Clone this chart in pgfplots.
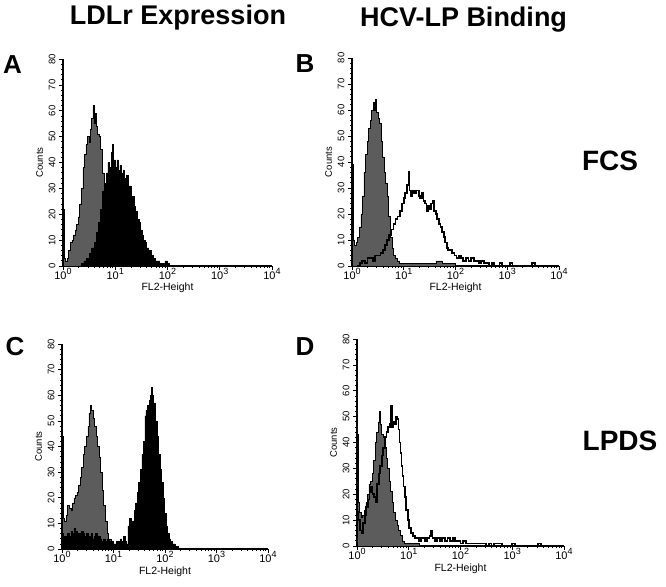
\documentclass[border=0pt]{standalone}
\usepackage{pgfplots}
\pgfplotsset{compat=1.18}
\usepackage{fontspec}
\setmainfont{Liberation Sans}
\setsansfont{Liberation Sans}
\newcommand{\lbl}[1]{10\raisebox{0.42em}{\fontsize{9}{9}\selectfont #1}}
\begin{document}
\begin{tikzpicture}
\useasboundingbox (0,0) rectangle (666pt,586pt);
% Titles
\node[anchor=base, font=\bfseries\fontsize{27}{27}\selectfont] at (178pt,561pt) {LDLr Expression};
\node[anchor=base, font=\bfseries\fontsize{27}{27}\selectfont] at (463.5pt,559pt) {HCV-LP Binding};
\node[font=\bfseries\fontsize{26}{26}\selectfont] at (12.5pt,521pt) {A};
\node[font=\bfseries\fontsize{26}{26}\selectfont] at (305pt,522pt) {B};
\node[font=\bfseries\fontsize{26}{26}\selectfont] at (15pt,239pt) {C};
\node[font=\bfseries\fontsize{26}{26}\selectfont] at (305pt,239pt) {D};
\node[font=\bfseries\fontsize{28}{28}\selectfont] at (610pt,425pt) {FCS};
\node[font=\bfseries\fontsize{28}{28}\selectfont] at (620pt,145pt) {LPDS};

% Panel A
\begin{axis}[at={(63pt,320pt)}, anchor=south west, width=209pt, height=207pt, scale only axis,
  xmin=0, xmax=4, ymin=0, ymax=80, axis x line*=bottom, axis y line*=left,
  axis line style={line width=1.4pt},
  xtick={0,1,2,3,4}, xticklabels={\lbl{0},\lbl{1},\lbl{2},\lbl{3},\lbl{4}},
  minor xtick={0.301,0.477,0.602,0.699,0.778,0.845,0.903,0.954,1.301,1.477,1.602,1.699,1.778,1.845,1.903,1.954,2.301,2.477,2.602,2.699,2.778,2.845,2.903,2.954,3.301,3.477,3.602,3.699,3.778,3.845,3.903,3.954},
  ytick={0,10,20,30,40,50,60,70,80}, yticklabels={0,10,20,30,40,50,60,70,80}, minor y tick num=4,
  xticklabel style={font=\fontsize{11}{11}\selectfont, yshift=5pt},
  yticklabel style={rotate=90, anchor=south, font=\fontsize{9.5}{9.5}\selectfont},
  tick align=outside, major tick length=4pt, minor tick length=2pt, tick style={black, line width=0.7pt},
  xlabel={FL2-Height}, ylabel={Counts},
  xlabel style={font=\fontsize{10.5}{10.5}\selectfont, at={(axis description cs:0.5,0)}, anchor=base, yshift=-25pt},
  ylabel style={font=\fontsize{9.5}{9.5}\selectfont, yshift=-1pt}, clip=false]
\addplot[const plot, fill=black!64, draw=black, line width=0.5pt] table[row sep=\\] {x y\\
0.00 22\\ 0.025 3\\ 0.05 2\\ 0.08 3\\ 0.11 6\\ 0.14 9\\ 0.17 10\\ 0.20 12\\ 0.23 14\\ 0.26 16\\
0.29 19\\ 0.32 24\\ 0.35 30\\ 0.38 38\\ 0.41 43\\ 0.44 47\\ 0.47 50\\ 0.50 48\\ 0.52 53\\ 0.55 57\\
0.57 62\\ 0.59 55\\ 0.61 59\\ 0.63 54\\ 0.66 51\\ 0.69 50\\ 0.72 45\\ 0.75 36\\ 0.78 28\\ 0.81 20\\
0.84 14\\ 0.88 9\\ 0.92 5\\ 0.96 3\\ 1.00 1\\ 1.05 0\\} \closedcycle;
\addplot[const plot, fill=black, draw=black, line width=0.5pt] table[row sep=\\] {x y\\
0.30 0\\ 0.35 1\\ 0.40 2\\ 0.45 3\\ 0.50 5\\ 0.55 7\\ 0.60 9\\ 0.64 13\\ 0.68 17\\ 0.72 22\\
0.76 29\\ 0.80 32\\ 0.83 36\\ 0.86 40\\ 0.89 38\\ 0.92 44\\ 0.95 47\\ 0.97 41\\ 1.00 38\\ 1.03 41\\
1.06 37\\ 1.09 39\\ 1.12 36\\ 1.15 37\\ 1.18 34\\ 1.21 35\\ 1.24 30\\ 1.27 31\\ 1.30 26\\ 1.33 27\\
1.36 23\\ 1.39 21\\ 1.42 18\\ 1.45 17\\ 1.48 14\\ 1.51 12\\ 1.54 10\\ 1.57 9\\ 1.60 7\\ 1.64 6\\
1.68 4\\ 1.72 3\\ 1.76 2\\ 1.80 2\\ 1.85 1\\ 1.90 1\\ 1.95 2\\ 2.00 1\\ 2.03 0\\} \closedcycle;
\end{axis}

% Panel B
\begin{axis}[at={(352pt,320pt)}, anchor=south west, width=207pt, height=208pt, scale only axis,
  xmin=0, xmax=4, ymin=0, ymax=80, axis x line*=bottom, axis y line*=left,
  axis line style={line width=1.4pt},
  xtick={0,1,2,3,4}, xticklabels={\lbl{0},\lbl{1},\lbl{2},\lbl{3},\lbl{4}},
  minor xtick={0.301,0.477,0.602,0.699,0.778,0.845,0.903,0.954,1.301,1.477,1.602,1.699,1.778,1.845,1.903,1.954,2.301,2.477,2.602,2.699,2.778,2.845,2.903,2.954,3.301,3.477,3.602,3.699,3.778,3.845,3.903,3.954},
  ytick={0,10,20,30,40,50,60,70,80}, yticklabels={0,10,20,30,40,50,60,70,80}, minor y tick num=4,
  xticklabel style={font=\fontsize{11}{11}\selectfont, yshift=5pt},
  yticklabel style={rotate=90, anchor=south, font=\fontsize{9.5}{9.5}\selectfont},
  tick align=outside, major tick length=4pt, minor tick length=2pt, tick style={black, line width=0.7pt},
  xlabel={FL2-Height}, ylabel={Counts},
  xlabel style={font=\fontsize{10.5}{10.5}\selectfont, at={(axis description cs:0.5,0)}, anchor=base, yshift=-25pt},
  ylabel style={font=\fontsize{9.5}{9.5}\selectfont, yshift=-1pt}, clip=false]
\addplot[const plot, fill=black!64, draw=black, line width=0.5pt] table[row sep=\\] {x y\\
0.00 39\\ 0.025 10\\ 0.05 8\\ 0.08 9\\ 0.11 11\\ 0.14 15\\ 0.17 20\\ 0.20 27\\ 0.23 36\\ 0.26 43\\
0.29 48\\ 0.32 53\\ 0.35 56\\ 0.38 60\\ 0.41 63\\ 0.43 60\\ 0.45 64\\ 0.47 59\\ 0.50 57\\ 0.53 55\\
0.56 48\\ 0.59 42\\ 0.62 36\\ 0.65 32\\ 0.68 27\\ 0.71 19\\ 0.74 11\\ 0.77 7\\ 0.80 4\\ 0.84 3\\
0.88 2\\ 0.92 1\\ 1.00 1\\ 1.20 1\\ 1.40 1\\ 1.62 2\\ 1.75 1\\ 1.90 1\\ 2.00 0\\} \closedcycle;
\addplot[const plot, draw=black, line width=1.8pt] table[row sep=\\] {x y\\
0.10 0\\ 0.15 1\\ 0.20 2\\ 0.25 1\\ 0.30 3\\ 0.35 3\\ 0.40 2\\ 0.45 4\\ 0.50 4\\ 0.55 5\\
0.60 6\\ 0.64 8\\ 0.68 10\\ 0.72 12\\ 0.76 14\\ 0.80 16\\ 0.84 18\\ 0.88 19\\ 0.92 21\\ 0.96 24\\
1.00 26\\ 1.03 28\\ 1.06 31\\ 1.09 36\\ 1.11 29\\ 1.14 27\\ 1.17 29\\ 1.20 28\\ 1.23 29\\ 1.26 29\\
1.29 27\\ 1.32 26\\ 1.35 28\\ 1.38 25\\ 1.41 24\\ 1.44 21\\ 1.47 23\\ 1.50 22\\ 1.53 24\\ 1.56 25\\
1.59 21\\ 1.62 20\\ 1.65 18\\ 1.68 16\\ 1.71 15\\ 1.74 13\\ 1.77 11\\ 1.80 9\\ 1.83 7\\ 1.86 6\\
1.90 6\\ 1.94 5\\ 1.98 4\\ 2.02 3\\ 2.06 4\\ 2.10 3\\ 2.15 2\\ 2.20 3\\ 2.25 2\\ 2.30 3\\
2.35 2\\ 2.40 2\\ 2.45 1\\ 2.50 2\\ 2.55 1\\ 2.60 1\\ 2.65 0\\ 2.70 1\\ 2.75 0\\ 2.85 1\\
2.90 0\\ 3.05 1\\ 3.10 0\\ 3.48 1\\ 3.53 0\\ 4.00 0\\};
\end{axis}

% Panel C
\begin{axis}[at={(62pt,37pt)}, anchor=south west, width=206pt, height=205pt, scale only axis,
  xmin=0, xmax=4, ymin=0, ymax=80, axis x line*=bottom, axis y line*=left,
  axis line style={line width=1.4pt},
  xtick={0,1,2,3,4}, xticklabels={\lbl{0},\lbl{1},\lbl{2},\lbl{3},\lbl{4}},
  minor xtick={0.301,0.477,0.602,0.699,0.778,0.845,0.903,0.954,1.301,1.477,1.602,1.699,1.778,1.845,1.903,1.954,2.301,2.477,2.602,2.699,2.778,2.845,2.903,2.954,3.301,3.477,3.602,3.699,3.778,3.845,3.903,3.954},
  ytick={0,10,20,30,40,50,60,70,80}, yticklabels={0,10,20,30,40,50,60,70,80}, minor y tick num=4,
  xticklabel style={font=\fontsize{11}{11}\selectfont, yshift=5pt},
  yticklabel style={rotate=90, anchor=south, font=\fontsize{9.5}{9.5}\selectfont},
  tick align=outside, major tick length=4pt, minor tick length=2pt, tick style={black, line width=0.7pt},
  xlabel={FL2-Height}, ylabel={Counts},
  xlabel style={font=\fontsize{10.5}{10.5}\selectfont, at={(axis description cs:0.5,0)}, anchor=base, yshift=-25pt},
  ylabel style={font=\fontsize{9.5}{9.5}\selectfont, yshift=-1pt}, clip=false]
\addplot[const plot, fill=black!64, draw=black, line width=0.5pt] table[row sep=\\] {x y\\
0.00 44\\ 0.025 12\\ 0.05 11\\ 0.08 13\\ 0.11 17\\ 0.14 16\\ 0.17 15\\ 0.20 18\\ 0.23 20\\ 0.26 21\\
0.29 22\\ 0.32 25\\ 0.35 28\\ 0.38 32\\ 0.41 37\\ 0.44 40\\ 0.47 44\\ 0.50 48\\ 0.52 53\\ 0.55 56\\
0.57 54\\ 0.60 51\\ 0.63 48\\ 0.66 44\\ 0.69 40\\ 0.72 36\\ 0.75 30\\ 0.78 23\\ 0.81 17\\ 0.84 11\\
0.87 6\\ 0.90 4\\ 0.95 2\\ 1.00 2\\ 1.10 1\\ 1.30 0\\} \closedcycle;
\addplot[const plot, fill=black, draw=black, line width=0.5pt] table[row sep=\\] {x y\\
0.00 6\\ 0.025 3\\ 0.05 5\\ 0.08 4\\ 0.11 6\\ 0.14 5\\ 0.17 7\\ 0.20 6\\ 0.23 8\\ 0.26 7\\
0.29 5\\ 0.32 6\\ 0.35 5\\ 0.38 7\\ 0.41 6\\ 0.44 5\\ 0.47 6\\ 0.50 4\\ 0.53 5\\ 0.56 6\\
0.59 4\\ 0.62 5\\ 0.65 6\\ 0.68 4\\ 0.71 5\\ 0.74 4\\ 0.77 3\\ 0.80 4\\ 0.84 3\\ 0.88 4\\
0.92 3\\ 0.96 3\\ 1.00 2\\ 1.05 3\\ 1.10 3\\ 1.13 4\\ 1.16 3\\ 1.19 5\\ 1.22 3\\ 1.25 2\\
1.28 9\\ 1.31 12\\ 1.34 10\\ 1.37 11\\ 1.40 15\\ 1.43 18\\ 1.46 22\\ 1.49 26\\ 1.52 31\\ 1.55 37\\
1.58 42\\ 1.61 52\\ 1.63 54\\ 1.66 56\\ 1.69 58\\ 1.72 60\\ 1.74 63\\ 1.76 60\\ 1.78 57\\ 1.81 50\\
1.84 44\\ 1.87 37\\ 1.90 31\\ 1.93 26\\ 1.96 20\\ 1.99 14\\ 2.02 9\\ 2.05 6\\ 2.08 4\\ 2.11 3\\
2.15 2\\ 2.20 1\\ 2.25 0\\} \closedcycle;
\end{axis}

% Panel D
\begin{axis}[at={(357pt,40pt)}, anchor=south west, width=207pt, height=207pt, scale only axis,
  xmin=0, xmax=4, ymin=0, ymax=80, axis x line*=bottom, axis y line*=left,
  axis line style={line width=1.4pt},
  xtick={0,1,2,3,4}, xticklabels={\lbl{0},\lbl{1},\lbl{2},\lbl{3},\lbl{4}},
  minor xtick={0.301,0.477,0.602,0.699,0.778,0.845,0.903,0.954,1.301,1.477,1.602,1.699,1.778,1.845,1.903,1.954,2.301,2.477,2.602,2.699,2.778,2.845,2.903,2.954,3.301,3.477,3.602,3.699,3.778,3.845,3.903,3.954},
  ytick={0,10,20,30,40,50,60,70,80}, yticklabels={0,10,20,30,40,50,60,70,80}, minor y tick num=4,
  xticklabel style={font=\fontsize{11}{11}\selectfont, yshift=5pt},
  yticklabel style={rotate=90, anchor=south, font=\fontsize{9.5}{9.5}\selectfont},
  tick align=outside, major tick length=4pt, minor tick length=2pt, tick style={black, line width=0.7pt},
  xlabel={FL2-Height}, ylabel={Counts},
  xlabel style={font=\fontsize{10.5}{10.5}\selectfont, at={(axis description cs:0.5,0)}, anchor=base, yshift=-25pt},
  ylabel style={font=\fontsize{9.5}{9.5}\selectfont, yshift=-1pt}, clip=false]
\addplot[const plot, fill=black!64, draw=black, line width=0.5pt] table[row sep=\\] {x y\\
0.00 43\\ 0.025 17\\ 0.05 13\\ 0.08 11\\ 0.11 12\\ 0.14 14\\ 0.17 17\\ 0.20 20\\ 0.23 24\\ 0.26 25\\
0.29 28\\ 0.32 33\\ 0.35 40\\ 0.38 44\\ 0.41 48\\ 0.43 52\\ 0.45 47\\ 0.47 43\\ 0.50 42\\ 0.53 38\\
0.56 34\\ 0.59 30\\ 0.62 25\\ 0.65 21\\ 0.68 17\\ 0.71 13\\ 0.74 10\\ 0.77 8\\ 0.80 6\\ 0.84 4\\
0.88 2\\ 0.92 1\\ 1.00 1\\ 1.10 1\\ 1.20 0\\} \closedcycle;
\addplot[const plot, draw=black, line width=1.8pt] table[row sep=\\] {x y\\
0.00 13\\ 0.03 10\\ 0.06 6\\ 0.09 5\\ 0.12 9\\ 0.15 12\\ 0.18 15\\ 0.21 18\\ 0.24 21\\ 0.27 23\\
0.30 20\\ 0.33 19\\ 0.36 17\\ 0.39 24\\ 0.42 28\\ 0.45 31\\ 0.48 35\\ 0.51 38\\ 0.54 42\\ 0.57 44\\
0.60 46\\ 0.63 47\\ 0.66 54\\ 0.68 46\\ 0.70 48\\ 0.73 47\\ 0.76 50\\ 0.78 49\\ 0.80 45\\ 0.82 40\\
0.84 36\\ 0.86 31\\ 0.88 27\\ 0.90 23\\ 0.92 19\\ 0.95 14\\ 0.98 10\\ 1.01 7\\ 1.04 5\\ 1.08 4\\
1.12 3\\ 1.16 3\\ 1.20 2\\ 1.24 3\\ 1.28 3\\ 1.32 2\\ 1.36 3\\ 1.40 4\\ 1.43 6\\ 1.46 3\\
1.50 2\\ 1.55 3\\ 1.60 2\\ 1.65 3\\ 1.70 2\\ 1.75 3\\ 1.80 2\\ 1.85 3\\ 1.90 2\\ 1.95 2\\
2.00 1\\ 2.05 2\\ 2.10 1\\ 2.20 1\\ 2.30 1\\ 2.40 1\\ 2.50 0\\ 2.55 1\\ 2.60 0\\ 2.65 1\\
2.70 1\\ 2.80 0\\ 3.00 1\\ 3.05 0\\ 3.50 1\\ 3.55 0\\ 4.00 0\\};
\end{axis}
\end{tikzpicture}
\end{document}
